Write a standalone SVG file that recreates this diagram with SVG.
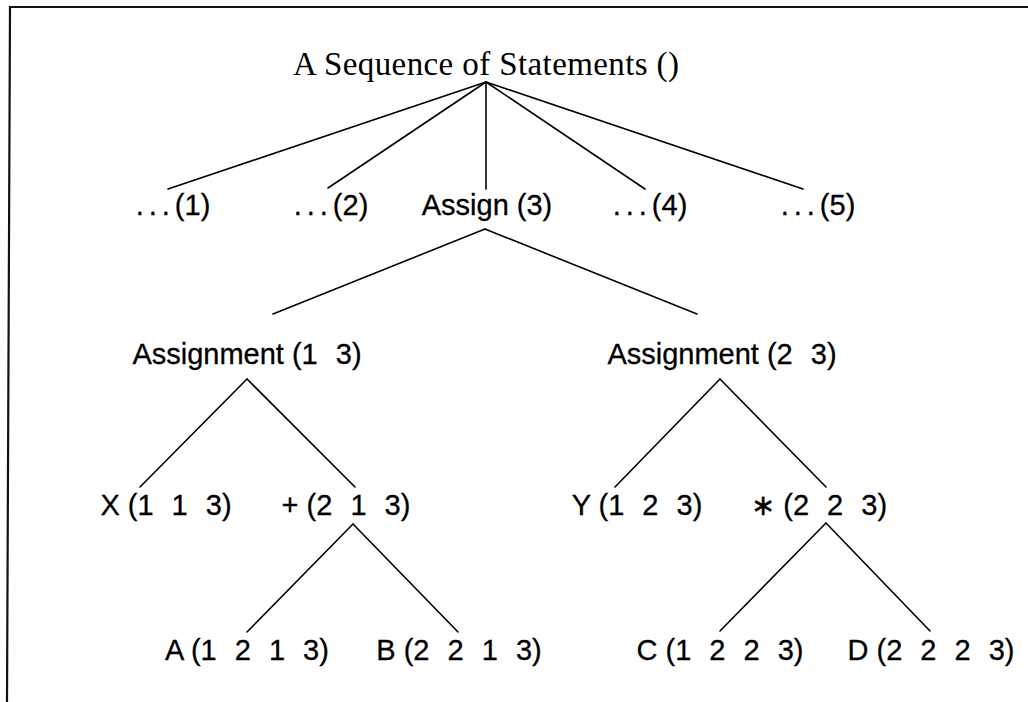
<svg xmlns="http://www.w3.org/2000/svg" width="1028" height="702" viewBox="0 0 1028 702">
<style>
.frame{fill:none;stroke:#111;stroke-width:2.2}
.edge{stroke:#000;stroke-width:1.6;fill:none;stroke-linecap:round}
.ser{font-family:"Liberation Serif","Times New Roman",serif;font-size:33px;fill:#000}
.lbl{font-family:"Liberation Sans",Arial,"DejaVu Sans",sans-serif;font-size:29px;fill:#000;stroke:#000;stroke-width:0.3;text-anchor:middle}
</style>
<rect width="1028" height="702" fill="#fff"/>
<path class="frame" d="M1028,7 L10,7 L7,702"/>
<g id="connectors">
<line class="edge" x1="486" y1="82" x2="168" y2="189"/>
<line class="edge" x1="486" y1="82" x2="328" y2="188"/>
<line class="edge" x1="486" y1="82" x2="486" y2="189"/>
<line class="edge" x1="486" y1="82" x2="645" y2="189"/>
<line class="edge" x1="486" y1="82" x2="803" y2="189"/>
<line class="edge" x1="485" y1="229" x2="273" y2="314"/>
<line class="edge" x1="485" y1="229" x2="697" y2="314"/>
<line class="edge" x1="247" y1="379" x2="140" y2="487"/>
<line class="edge" x1="247" y1="379" x2="355" y2="487"/>
<line class="edge" x1="720" y1="379" x2="615" y2="487"/>
<line class="edge" x1="720" y1="379" x2="826" y2="487"/>
<line class="edge" x1="353" y1="524" x2="247" y2="632"/>
<line class="edge" x1="353" y1="524" x2="458" y2="632"/>
<line class="edge" x1="826" y1="523" x2="720" y2="631"/>
<line class="edge" x1="826" y1="523" x2="930" y2="631"/>
</g>
<g id="root"><text class="ser" x="293" y="75" textLength="386">A Sequence of Statements ()</text></g>
<g id="n1"><text class="lbl" x="173" y="215"><tspan letter-spacing="5">...</tspan>(1)</text></g>
<g id="n2"><text class="lbl" x="331" y="215"><tspan letter-spacing="5">...</tspan>(2)</text></g>
<g id="n3"><text class="lbl" x="487" y="215">Assign (3)</text></g>
<g id="n4"><text class="lbl" x="650" y="215"><tspan letter-spacing="5">...</tspan>(4)</text></g>
<g id="n5"><text class="lbl" x="818" y="215"><tspan letter-spacing="5">...</tspan>(5)</text></g>
<g id="a1"><text class="lbl" x="247" y="364">Assignment (1<tspan dx="10"> 3</tspan>)</text></g>
<g id="a2"><text class="lbl" x="722" y="364">Assignment (2<tspan dx="10"> 3</tspan>)</text></g>
<g id="x"><text class="lbl" x="166" y="515">X (1<tspan dx="10"> 1</tspan><tspan dx="10"> 3</tspan>)</text></g>
<g id="plus"><text class="lbl" x="346" y="515">+ (2<tspan dx="10"> 1</tspan><tspan dx="10"> 3</tspan>)</text></g>
<g id="y"><text class="lbl" x="637" y="515">Y (1<tspan dx="10"> 2</tspan><tspan dx="10"> 3</tspan>)</text></g>
<g id="star"><text class="lbl" x="819" y="515">∗ (2<tspan dx="10"> 2</tspan><tspan dx="10"> 3</tspan>)</text></g>
<g id="a"><text class="lbl" x="247" y="660">A (1<tspan dx="10"> 2</tspan><tspan dx="10"> 1</tspan><tspan dx="10"> 3</tspan>)</text></g>
<g id="b"><text class="lbl" x="459" y="660">B (2<tspan dx="10"> 2</tspan><tspan dx="10"> 1</tspan><tspan dx="10"> 3</tspan>)</text></g>
<g id="c"><text class="lbl" x="720" y="660">C (1<tspan dx="10"> 2</tspan><tspan dx="10"> 2</tspan><tspan dx="10"> 3</tspan>)</text></g>
<g id="d"><text class="lbl" x="931" y="660">D (2<tspan dx="10"> 2</tspan><tspan dx="10"> 2</tspan><tspan dx="10"> 3</tspan>)</text></g>
</svg>
